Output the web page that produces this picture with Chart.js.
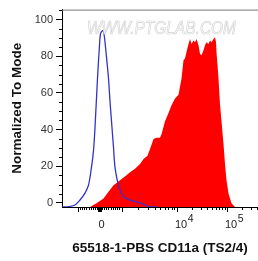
<!DOCTYPE html>
<html>
<head>
<meta charset="utf-8">
<script src="https://cdn.jsdelivr.net/npm/chart.js@4.4.1/dist/chart.umd.min.js"></script>
<style>
  html, body { margin: 0; padding: 0; background: #fff; }
</style>
</head>
<body>
<canvas id="chart" width="258" height="261"></canvas>
<script>
// x values are in display units of the biexponential axis (10^4 -> 4, 10^5 -> 5)
const controlX = [1.70, 1.79, 1.96, 2.06, 2.16, 2.23, 2.29, 2.33, 2.36, 2.41, 2.45, 2.47, 2.51, 2.54, 2.58, 2.63, 2.66, 2.69, 2.73, 2.76, 2.83, 2.93, 3.06, 3.26, 3.46, 3.60];
const controlY = [-2.2, -2.2, -1.1, 1.6, 5.4, 9.7, 19.5, 28.5, 41, 67.9, 86, 92.1, 93.9, 92.1, 82.3, 67.9, 55.4, 44.6, 30.3, 19.5, 9.7, 3.4, 1.6, 0, -2, -2.2];

const stainedX = [1.70, 2.22, 2.26, 2.39, 2.53, 2.63, 2.73, 2.86, 2.99, 3.06, 3.16, 3.26, 3.33, 3.41, 3.46, 3.53, 3.59, 3.66, 3.69, 3.76, 3.83, 3.89, 3.96, 4.03, 4.09, 4.13, 4.16, 4.19, 4.23, 4.26, 4.29, 4.33, 4.36, 4.39, 4.43, 4.46, 4.49, 4.53, 4.56, 4.59, 4.63, 4.66, 4.69, 4.73, 4.76, 4.78, 4.79, 4.83, 4.86, 4.89, 4.93, 4.96, 4.99, 5.03, 5.09, 5.16, 5.62];
const stainedY = [-2.2, -2.2, -2.2, -0.2, 2.5, 6.1, 9.7, 12.4, 15.1, 16.8, 18.7, 21.3, 24.0, 25.8, 29.4, 34.8, 35.6, 35.6, 37.5, 44.6, 49.1, 53.2, 57, 59, 67.9, 77.8, 78.7, 82.3, 86.7, 89.4, 86.7, 88.5, 87.6, 89.4, 85.9, 81.3, 80.5, 83.2, 85.9, 87.6, 86.7, 88.5, 87.6, 89.4, 90.3, 87.6, 82.3, 67.9, 53.8, 44.6, 32.1, 21.3, 12.4, 5.2, -0.2, -2.2, -2.2];

const yTicks = [0, 20, 40, 60, 80, 100];
const xMajorTicks = [-1000, 0, 1000, 10000, 100000];
const xLabelValues = [0, 10000, 100000];
const xLabelBase = ['0', '10', '10'];
const xLabelExp = ['', '4', '5'];

const FONT = '"Liberation Sans", Arial, sans-serif';

// biexponential axis: linear around zero, log above 10^3
function axisPos(v) {
  if (Math.abs(v) <= 1000) return 2.45 + 0.44 * v / 1000;
  if (v <= 10000) return 2.89 + 1.11 * Math.log10(v / 1000);
  return 4 + Math.log10(v / 10000);
}

const xMinorTicks = [];
for (let i = 1; i < 10; i++) {
  xMinorTicks.push(i * 100, -i * 100, i * 1000, i * 10000, i * 100000);
}
const xZeroTicks = [];
for (let i = 1; i < 10; i++) xZeroTicks.push(i * 10, -i * 10);

const axisDecor = {
  id: 'axisDecor',
  afterDatasetsDraw(chart) {
    const ctx = chart.ctx;
    // watermark
    ctx.save();
    ctx.font = 'italic 18px ' + FONT;
    const text = 'WWW.PTGLAB.COM';
    const w = ctx.measureText(text).width;
    ctx.translate(87, 34);
    ctx.scale(149 / w, 1);
    ctx.fillStyle = 'rgba(255,255,255,0.8)';
    ctx.fillText(text, 0, 0);
    ctx.strokeStyle = '#d2d2d2';
    ctx.lineWidth = 0.7;
    ctx.strokeText(text, 0, 0);
    ctx.restore();
  },
  afterDraw(chart) {
    const ctx = chart.ctx;
    const area = chart.chartArea;
    const xs = chart.scales.x;
    const ys = chart.scales.y;
    ctx.save();
    // top frame line
    ctx.strokeStyle = '#777';
    ctx.lineWidth = 1;
    ctx.beginPath();
    ctx.moveTo(area.left, area.top + 0.5);
    ctx.lineTo(area.right, area.top + 0.5);
    ctx.stroke();

    // y minor ticks
    ctx.strokeStyle = '#000';
    ctx.beginPath();
    for (let v = 5; v <= 105; v += 5) {
      if (yTicks.includes(v)) continue;
      const y = Math.round(ys.getPixelForValue(v)) + 0.5;
      ctx.moveTo(area.left - 3, y);
      ctx.lineTo(area.left, y);
    }
    ctx.stroke();

    // x ticks
    const bottom = area.bottom;
    const drawTick = (v, len) => {
      const p = axisPos(v);
      if (p < xs.min || p > xs.max) return;
      const x = Math.round(xs.getPixelForValue(p)) + 0.5;
      ctx.moveTo(x, bottom);
      ctx.lineTo(x, bottom + len);
    };
    ctx.beginPath();
    xMinorTicks.forEach(v => drawTick(v, 3));
    xMajorTicks.forEach(v => drawTick(v, 5));
    xZeroTicks.forEach(v => drawTick(v, 5));
    ctx.stroke();

    // x labels
    ctx.fillStyle = '#222';
    ctx.textBaseline = 'middle';
    xLabelValues.forEach((v, i) => {
      const x = xs.getPixelForValue(axisPos(v));
      ctx.font = '11px ' + FONT;
      if (!xLabelExp[i]) {
        ctx.textAlign = 'center';
        ctx.fillText(xLabelBase[i], x + 2, 225);
      } else {
        ctx.textAlign = 'left';
        ctx.fillText(xLabelBase[i], x - 2, 225);
        const bw = ctx.measureText(xLabelBase[i]).width;
        ctx.font = '10.5px ' + FONT;
        ctx.fillText(xLabelExp[i], x - 2 + bw + 0.5, 219);
      }
    });
    ctx.restore();
  }
};

const control = controlX.map((x, i) => ({ x: x, y: controlY[i] }));
const stained = stainedX.map((x, i) => ({ x: x, y: stainedY[i] }));

new Chart(document.getElementById('chart'), {
  type: 'line',
  data: {
    datasets: [
      {
        label: 'Control',
        data: control,
        borderColor: '#3333cc',
        borderWidth: 1.3,
        fill: false,
        pointRadius: 0,
        tension: 0.3
      },
      {
        label: '65518-1-PBS CD11a',
        data: stained,
        borderColor: '#ff0000',
        backgroundColor: '#ff0000',
        borderWidth: 0,
        fill: 'start',
        pointRadius: 0,
        tension: 0
      }
    ]
  },
  options: {
    responsive: false,
    animation: false,
    layout: { padding: { top: 7, right: 0, left: 0, bottom: 0 } },
    plugins: {
      legend: { display: false },
      tooltip: { enabled: false }
    },
    scales: {
      x: {
        type: 'linear',
        min: 1.70,
        max: 5.62,
        ticks: { display: false },
        grid: { display: false },
        border: { color: '#000', width: 1 },
        title: {
          display: true,
          text: '65518-1-PBS CD11a (TS2/4)',
          color: '#111',
          font: { family: FONT, size: 13.5, weight: 'bold' },
          padding: { top: 0, bottom: 5 }
        },
        afterFit(scale) { scale.height = 54; }
      },
      y: {
        type: 'linear',
        min: -2.2,
        max: 105.4,
        afterBuildTicks(scale) { scale.ticks = yTicks.map(v => ({ value: v })); },
        ticks: { color: '#333', padding: 3, font: { family: FONT, size: 11 } },
        grid: { drawOnChartArea: false, tickLength: 6, tickColor: '#000' },
        border: { color: '#000', width: 1 },
        title: {
          display: true,
          text: 'Normalized To Mode',
          color: '#111',
          font: { family: FONT, size: 13.5, weight: 'bold' },
          padding: { top: 9, bottom: 0 }
        },
        afterFit(scale) { scale.width = 62; }
      }
    }
  },
  plugins: [axisDecor]
});
</script>
</body>
</html>
